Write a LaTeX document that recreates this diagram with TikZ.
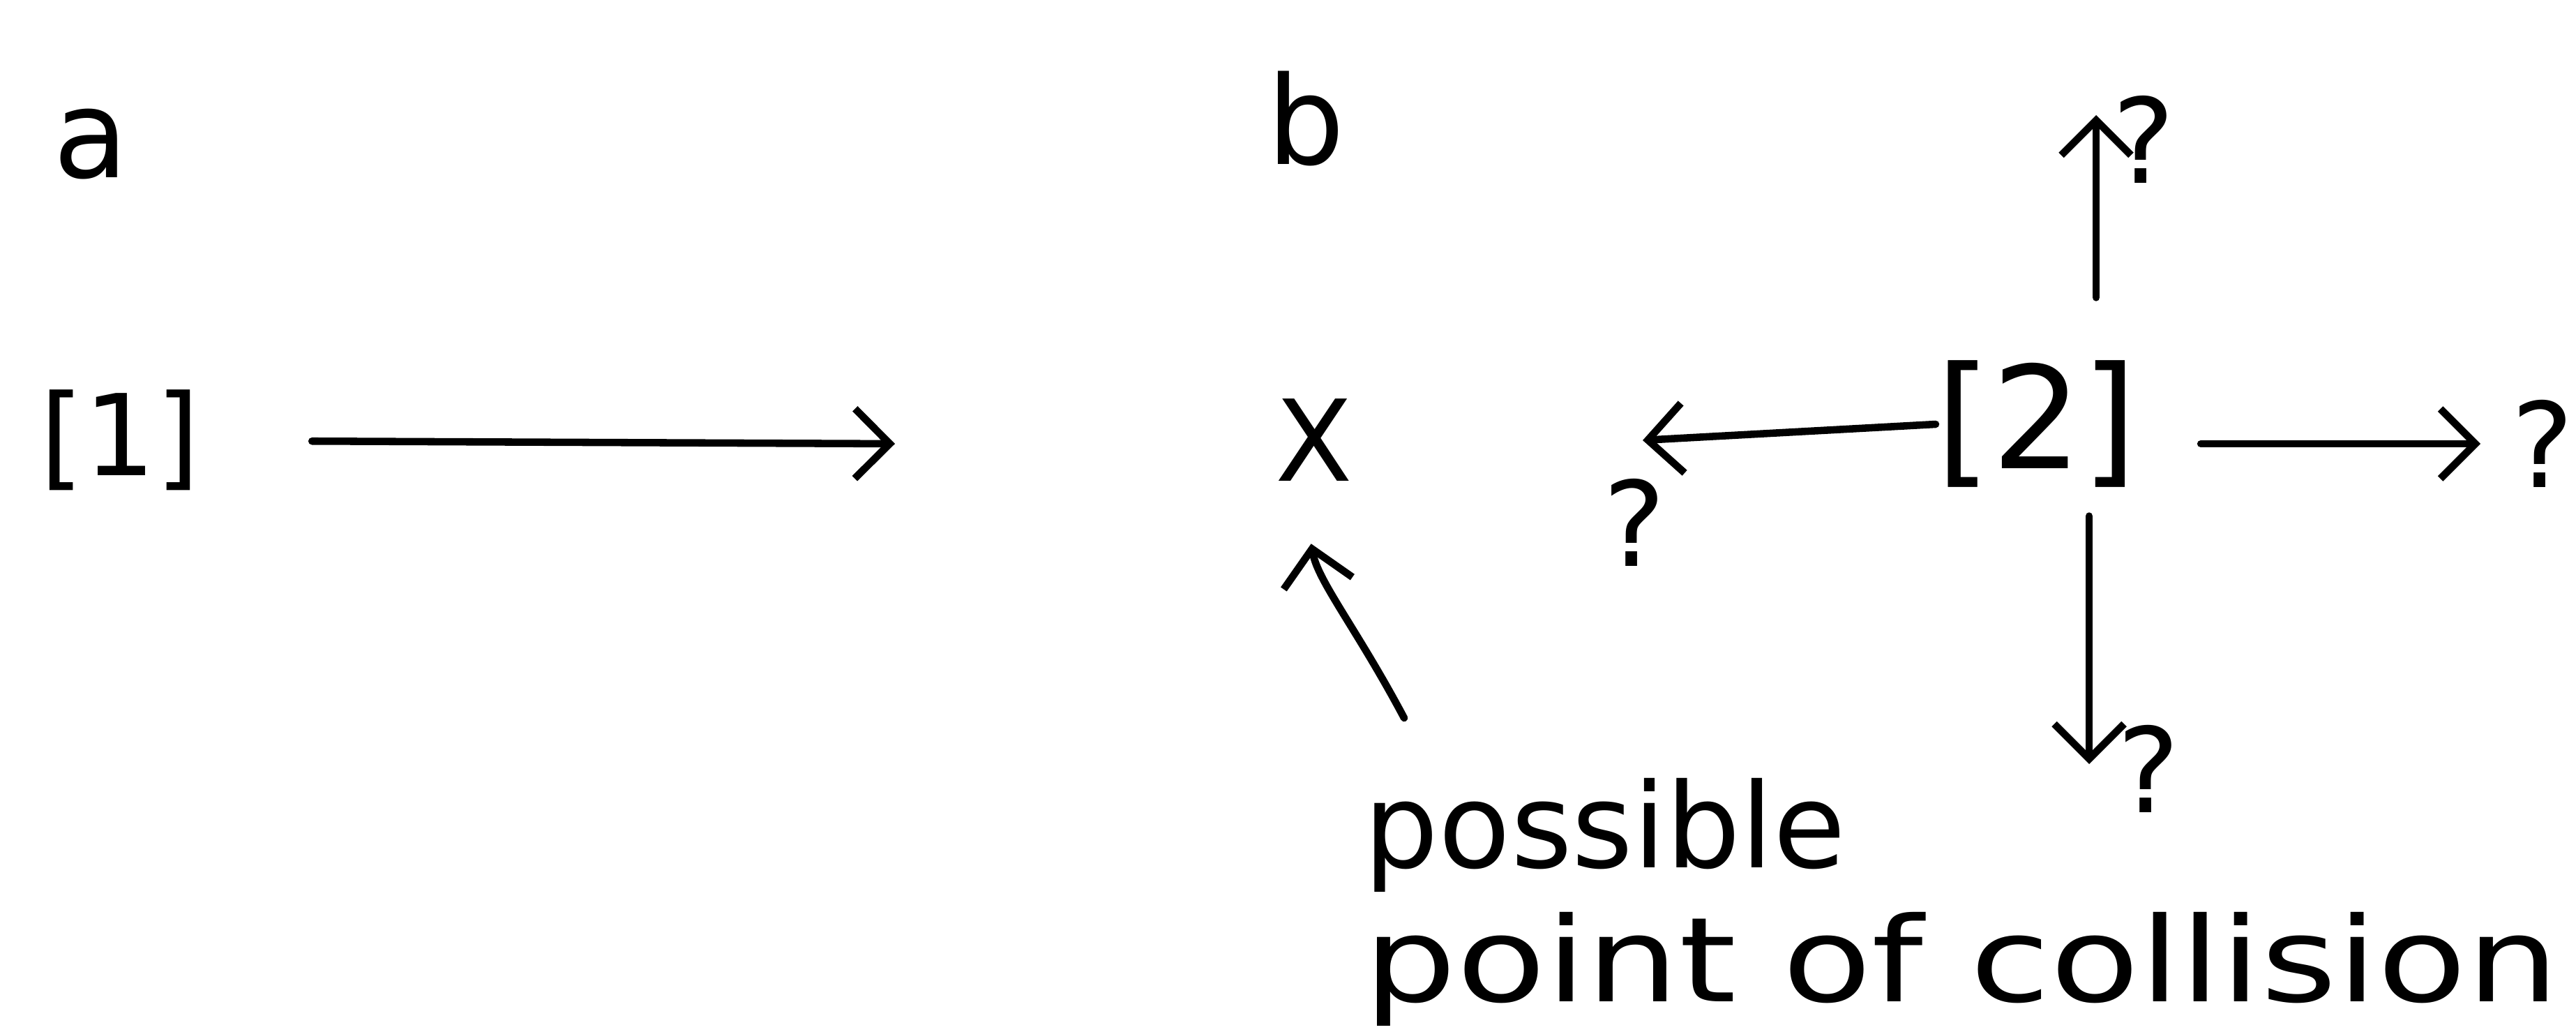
\documentclass[tikz,border=0pt]{standalone}
\usepackage{fontspec}
\setmainfont{DejaVu Sans}
\usepackage{tikz}
\usetikzlibrary{arrows.meta,positioning}

\begin{document}
\begin{tikzpicture}[
  >={Straight Barb[length=5mm,width=10mm]},
  every node/.style={inner sep=0pt, font=\fontsize{46}{52}\selectfont},
  move/.style={->, line width=3pt, line cap=round},
  panel/.style={font=\fontsize{50}{56}\selectfont},
  body/.style={font=\fontsize{58}{64}\selectfont},
  qmark/.style={font=\fontsize{48}{54}\selectfont},
  note/.style={anchor=base west, font=\fontsize{48}{56}\selectfont},
]
\useasboundingbox (0,0) rectangle (36.93,-14.79);

% panel a
\node[panel] (la) at (1.30,-2.07) {a};
\node (one) at (1.72,-6.31) {[1]};
\coordinate (oneend) at (12.83,-6.36);
\draw[move, shorten <=16mm] (one) -- (oneend);

% panel b
\node[panel] (lb) at (18.72,-1.70) {b};
\node (x) at (18.84,-6.31) {X};
\node[body] (two) at (29.20,-6.08) {[2]};

\coordinate (leftend) at (23.55,-6.31);
\coordinate (upend) at (30.05,-1.65);
\coordinate (rightend) at (35.56,-6.36);
\coordinate (downend) at (29.95,-10.95);

\node[qmark] (qleft) at (23.43,-7.49) {?};
\node[qmark] (qup) at (30.73,-2.00) {?};
\node[qmark] (qright) at (36.45,-6.36) {?};
\node[qmark] (qdown) at (30.80,-11.02) {?};

% possible moves of 2
\draw[move] (two.west) -- (leftend);
\draw[move, shorten <=9mm] (two.north -| upend) -- (upend);
\draw[move, shorten <=9mm] (two.east |- rightend) -- (rightend);
\draw[move, shorten <=4mm] (two.south -| downend) -- (downend);

% collision pointer
\coordinate (cstart) at (20.13,-10.29);
\draw[move, shorten >=9mm] (cstart) to[out=118, in=-80] ([xshift=-2mm]x.south);
\node[note] (possible) at (19.55,-12.43) {possible};
\node[note, xscale=1.24] (point) at (19.55,-14.35) {point of collision};
\end{tikzpicture}
\end{document}
